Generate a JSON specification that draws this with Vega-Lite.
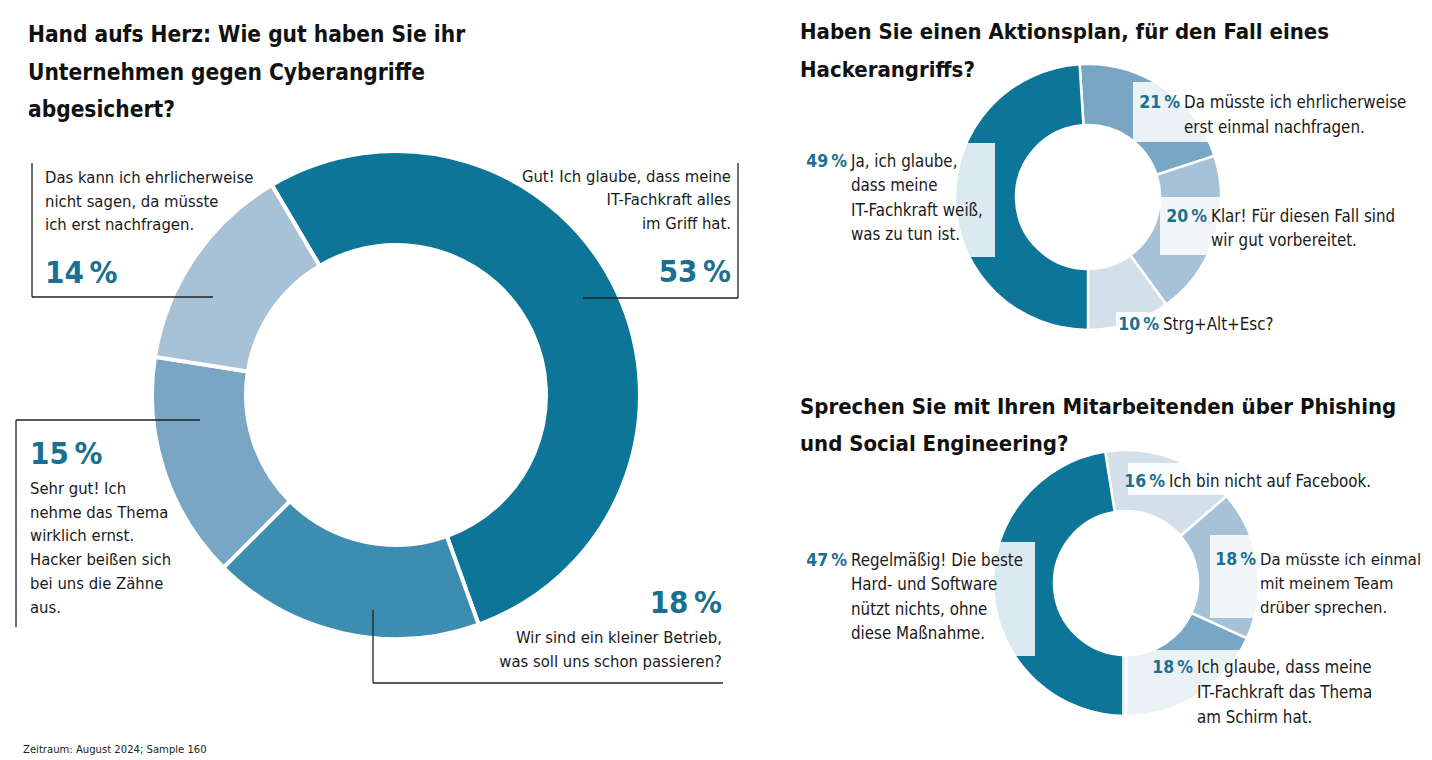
{
  "$schema": "https://vega.github.io/schema/vega-lite/v6.json",
  "width": 1432,
  "height": 760,
  "autosize": {"type": "fit", "contains": "padding"},
  "padding": 0,
  "background": "white",
  "config": {
    "view": {"stroke": null},
    "text": {"font": "DejaVu Sans Condensed, Liberation Sans Narrow, sans-serif", "color": "#1a1a1a"},
    "rule": {"color": "#222", "strokeWidth": 1.3},
    "locale": {
      "number": {"decimal": ",", "thousands": ".", "grouping": [3], "currency": ["", "\u2009%"]}
    }
  },
  "datasets": {
    "cyber": [
      {"id": "gut", "pct": 53, "rank": 1, "label": "Gut! Ich glaube, dass meine\nIT-Fachkraft alles\nim Griff hat."},
      {"id": "klein", "pct": 18, "rank": 2, "label": "Wir sind ein kleiner Betrieb,\nwas soll uns schon passieren?"},
      {"id": "sehrgut", "pct": 15, "rank": 3, "label": "Sehr gut! Ich\nnehme das Thema\nwirklich ernst.\nHacker beißen sich\nbei uns die Zähne\naus."},
      {"id": "weissnicht", "pct": 14, "rank": 4, "label": "Das kann ich ehrlicherweise\nnicht sagen, da müsste\nich erst nachfragen."}
    ],
    "plan": [
      {"id": "nachfragen", "pct": 21, "rank": 1, "label": "Da müsste ich ehrlicherweise\nerst einmal nachfragen."},
      {"id": "klar", "pct": 20, "rank": 2, "label": "Klar! Für diesen Fall sind\nwir gut vorbereitet."},
      {"id": "strg", "pct": 10, "rank": 3, "label": "Strg+Alt+Esc?"},
      {"id": "ja", "pct": 49, "rank": 4, "label": "Ja, ich glaube,\ndass meine\nIT-Fachkraft weiß,\nwas zu tun ist."}
    ],
    "phishing": [
      {"id": "facebook", "pct": 16, "rank": 1, "label": "Ich bin nicht auf Facebook."},
      {"id": "team", "pct": 18, "rank": 2, "label": "Da müsste ich einmal\nmit meinem Team\ndrüber sprechen."},
      {"id": "schirm", "pct": 18, "rank": 3, "label": "Ich glaube, dass meine\nIT-Fachkraft das Thema\nam Schirm hat."},
      {"id": "regel", "pct": 47, "rank": 4, "label": "Regelmäßig! Die beste\nHard- und Software\nnützt nichts, ohne\ndiese Maßnahme."}
    ]
  },
  "resolve": {"scale": {"theta": "independent", "color": "independent"}},
  "layer": [
    {
      "data": {"name": "cyber"},
      "mark": {"type": "arc", "x": 396, "y": 395, "radius": 244, "radius2": 150, "stroke": "white", "strokeWidth": 4},
      "encoding": {
        "theta": {"field": "pct", "type": "quantitative", "stack": true, "scale": {"range": [-0.534, 5.749]}},
        "order": {"field": "rank", "type": "quantitative"},
        "color": {"field": "id", "type": "nominal", "legend": null,
          "scale": {"domain": ["gut", "klein", "sehrgut", "weissnicht"], "range": ["#0d7598", "#3c8db0", "#78a6c4", "#a7c2d6"]}}
      }
    },
    {
      "data": {"name": "plan"},
      "mark": {"type": "arc", "x": 1088, "y": 197, "radius": 133, "radius2": 72, "stroke": "white", "strokeWidth": 2.5},
      "encoding": {
        "theta": {"field": "pct", "type": "quantitative", "stack": true, "scale": {"range": [-0.063, 6.220]}},
        "order": {"field": "rank", "type": "quantitative"},
        "color": {"field": "id", "type": "nominal", "legend": null,
          "scale": {"domain": ["nachfragen", "klar", "strg", "ja"], "range": ["#78a6c4", "#a7c2d6", "#d3e0ea", "#0d7598"]}}
      }
    },
    {
      "data": {"name": "phishing"},
      "mark": {"type": "arc", "x": 1126, "y": 583, "radius": 133, "radius2": 72, "stroke": "white", "strokeWidth": 2.5},
      "encoding": {
        "theta": {"field": "pct", "type": "quantitative", "stack": true, "scale": {"range": [-0.157, 6.126]}},
        "order": {"field": "rank", "type": "quantitative"},
        "color": {"field": "id", "type": "nominal", "legend": null,
          "scale": {"domain": ["facebook", "team", "schirm", "regel"], "range": ["#d3e0ea", "#a7c2d6", "#78a6c4", "#0d7598"]}}
      }
    },
    {"data": {"values": [{}]}, "mark": {"type": "rect", "x": 800, "x2": 995, "y": 143, "y2": 257, "fill": "white", "opacity": 0.85}, "encoding": {}},
    {"data": {"values": [{}]}, "mark": {"type": "rect", "x": 1133, "x2": 1420, "y": 82, "y2": 142, "fill": "white", "opacity": 0.85}, "encoding": {}},
    {"data": {"values": [{}]}, "mark": {"type": "rect", "x": 1160, "x2": 1420, "y": 197, "y2": 255, "fill": "white", "opacity": 0.85}, "encoding": {}},
    {"data": {"values": [{}]}, "mark": {"type": "rect", "x": 1116, "x2": 1300, "y": 312, "y2": 345, "fill": "white", "opacity": 0.85}, "encoding": {}},
    {"data": {"values": [{}]}, "mark": {"type": "rect", "x": 1128, "x2": 1400, "y": 463, "y2": 495, "fill": "white", "opacity": 0.85}, "encoding": {}},
    {"data": {"values": [{}]}, "mark": {"type": "rect", "x": 1210, "x2": 1430, "y": 535, "y2": 618, "fill": "white", "opacity": 0.85}, "encoding": {}},
    {"data": {"values": [{}]}, "mark": {"type": "rect", "x": 1122, "x2": 1400, "y": 650, "y2": 740, "fill": "white", "opacity": 0.85}, "encoding": {}},
    {"data": {"values": [{}]}, "mark": {"type": "rect", "x": 800, "x2": 1035, "y": 542, "y2": 656, "fill": "white", "opacity": 0.85}, "encoding": {}},

    {"data": {"values": [{}]}, "mark": "rule", "encoding": {"x": {"value": 32}, "y": {"value": 163}, "y2": {"value": 297}}},
    {"data": {"values": [{}]}, "mark": "rule", "encoding": {"y": {"value": 297}, "x": {"value": 32}, "x2": {"value": 213}}},
    {"data": {"values": [{}]}, "mark": "rule", "encoding": {"x": {"value": 738}, "y": {"value": 163}, "y2": {"value": 298}}},
    {"data": {"values": [{}]}, "mark": "rule", "encoding": {"y": {"value": 298}, "x": {"value": 583}, "x2": {"value": 738}}},
    {"data": {"values": [{}]}, "mark": "rule", "encoding": {"y": {"value": 420}, "x": {"value": 16}, "x2": {"value": 200}}},
    {"data": {"values": [{}]}, "mark": "rule", "encoding": {"x": {"value": 16}, "y": {"value": 420}, "y2": {"value": 627}}},
    {"data": {"values": [{}]}, "mark": "rule", "encoding": {"x": {"value": 373}, "y": {"value": 610}, "y2": {"value": 683}}},
    {"data": {"values": [{}]}, "mark": "rule", "encoding": {"y": {"value": 683}, "x": {"value": 373}, "x2": {"value": 723}}},

    {"data": {"values": [{}]}, "mark": {"type": "text", "x": 28, "y": 42, "align": "left", "baseline": "alphabetic", "fontSize": 22.5, "fontWeight": "bold", "lineHeight": 37.5, "color": "#111",
      "text": ["Hand aufs Herz: Wie gut haben Sie ihr", "Unternehmen gegen Cyberangriffe", "abgesichert?"]}, "encoding": {}},
    {"data": {"values": [{}]}, "mark": {"type": "text", "x": 800, "y": 39, "align": "left", "baseline": "alphabetic", "fontSize": 22, "fontWeight": "bold", "lineHeight": 38, "color": "#111",
      "text": ["Haben Sie einen Aktionsplan, für den Fall eines", "Hackerangriffs?"]}, "encoding": {}},
    {"data": {"values": [{}]}, "mark": {"type": "text", "x": 800, "y": 414, "align": "left", "baseline": "alphabetic", "fontSize": 22, "fontWeight": "bold", "lineHeight": 37, "color": "#111",
      "text": ["Sprechen Sie mit Ihren Mitarbeitenden über Phishing", "und Social Engineering?"]}, "encoding": {}},
    {"data": {"values": [{}]}, "mark": {"type": "text", "x": 23, "y": 753, "align": "left", "baseline": "alphabetic", "fontSize": 11.2, "color": "#222",
      "text": "Zeitraum: August 2024; Sample 160"}, "encoding": {}},

    {"data": {"name": "cyber"}, "transform": [{"filter": "datum.id === 'gut'"}],
      "mark": {"type": "text", "x": 731, "y": 182, "align": "right", "baseline": "alphabetic", "fontSize": 16.5, "lineHeight": 23.3, "lineBreak": "\n"},
      "encoding": {"text": {"field": "label"}}},
    {"data": {"name": "cyber"}, "transform": [{"filter": "datum.id === 'gut'"}],
      "mark": {"type": "text", "x": 731, "y": 282, "align": "right", "baseline": "alphabetic", "fontSize": 31, "fontWeight": "bold", "color": "#1a7090"},
      "encoding": {"text": {"field": "pct", "type": "quantitative", "format": "$d"}}},
    {"data": {"name": "cyber"}, "transform": [{"filter": "datum.id === 'weissnicht'"}],
      "mark": {"type": "text", "x": 45, "y": 183, "align": "left", "baseline": "alphabetic", "fontSize": 16.5, "lineHeight": 23.5, "lineBreak": "\n"},
      "encoding": {"text": {"field": "label"}}},
    {"data": {"name": "cyber"}, "transform": [{"filter": "datum.id === 'weissnicht'"}],
      "mark": {"type": "text", "x": 45, "y": 283, "align": "left", "baseline": "alphabetic", "fontSize": 31, "fontWeight": "bold", "color": "#1a7090"},
      "encoding": {"text": {"field": "pct", "type": "quantitative", "format": "$d"}}},
    {"data": {"name": "cyber"}, "transform": [{"filter": "datum.id === 'sehrgut'"}],
      "mark": {"type": "text", "x": 30, "y": 494, "align": "left", "baseline": "alphabetic", "fontSize": 16.5, "lineHeight": 23.7, "lineBreak": "\n"},
      "encoding": {"text": {"field": "label"}}},
    {"data": {"name": "cyber"}, "transform": [{"filter": "datum.id === 'sehrgut'"}],
      "mark": {"type": "text", "x": 30, "y": 464, "align": "left", "baseline": "alphabetic", "fontSize": 31, "fontWeight": "bold", "color": "#1a7090"},
      "encoding": {"text": {"field": "pct", "type": "quantitative", "format": "$d"}}},
    {"data": {"name": "cyber"}, "transform": [{"filter": "datum.id === 'klein'"}],
      "mark": {"type": "text", "x": 722, "y": 643, "align": "right", "baseline": "alphabetic", "fontSize": 16.5, "lineHeight": 23.5, "lineBreak": "\n"},
      "encoding": {"text": {"field": "label"}}},
    {"data": {"name": "cyber"}, "transform": [{"filter": "datum.id === 'klein'"}],
      "mark": {"type": "text", "x": 722, "y": 613, "align": "right", "baseline": "alphabetic", "fontSize": 31, "fontWeight": "bold", "color": "#1a7090"},
      "encoding": {"text": {"field": "pct", "type": "quantitative", "format": "$d"}}},

    {"data": {"name": "plan"}, "transform": [{"filter": "datum.id === 'nachfragen'"}],
      "mark": {"type": "text", "x": 1184, "y": 108, "align": "left", "baseline": "alphabetic", "fontSize": 16.8, "lineHeight": 25, "lineBreak": "\n"},
      "encoding": {"text": {"field": "label"}}},
    {"data": {"name": "plan"}, "transform": [{"filter": "datum.id === 'nachfragen'"}],
      "mark": {"type": "text", "x": 1180, "y": 108, "align": "right", "baseline": "alphabetic", "fontSize": 17.5, "fontWeight": "bold", "color": "#1a7090"},
      "encoding": {"text": {"field": "pct", "type": "quantitative", "format": "$d"}}},
    {"data": {"name": "plan"}, "transform": [{"filter": "datum.id === 'klar'"}],
      "mark": {"type": "text", "x": 1211, "y": 222, "align": "left", "baseline": "alphabetic", "fontSize": 16.8, "lineHeight": 24, "lineBreak": "\n"},
      "encoding": {"text": {"field": "label"}}},
    {"data": {"name": "plan"}, "transform": [{"filter": "datum.id === 'klar'"}],
      "mark": {"type": "text", "x": 1207, "y": 222, "align": "right", "baseline": "alphabetic", "fontSize": 17.5, "fontWeight": "bold", "color": "#1a7090"},
      "encoding": {"text": {"field": "pct", "type": "quantitative", "format": "$d"}}},
    {"data": {"name": "plan"}, "transform": [{"filter": "datum.id === 'strg'"}],
      "mark": {"type": "text", "x": 1163, "y": 330, "align": "left", "baseline": "alphabetic", "fontSize": 16.8, "lineBreak": "\n"},
      "encoding": {"text": {"field": "label"}}},
    {"data": {"name": "plan"}, "transform": [{"filter": "datum.id === 'strg'"}],
      "mark": {"type": "text", "x": 1159, "y": 330, "align": "right", "baseline": "alphabetic", "fontSize": 17.5, "fontWeight": "bold", "color": "#1a7090"},
      "encoding": {"text": {"field": "pct", "type": "quantitative", "format": "$d"}}},
    {"data": {"name": "plan"}, "transform": [{"filter": "datum.id === 'ja'"}],
      "mark": {"type": "text", "x": 851, "y": 167, "align": "left", "baseline": "alphabetic", "fontSize": 16.8, "lineHeight": 24.3, "lineBreak": "\n"},
      "encoding": {"text": {"field": "label"}}},
    {"data": {"name": "plan"}, "transform": [{"filter": "datum.id === 'ja'"}],
      "mark": {"type": "text", "x": 847, "y": 167, "align": "right", "baseline": "alphabetic", "fontSize": 17.5, "fontWeight": "bold", "color": "#1a7090"},
      "encoding": {"text": {"field": "pct", "type": "quantitative", "format": "$d"}}},

    {"data": {"name": "phishing"}, "transform": [{"filter": "datum.id === 'facebook'"}],
      "mark": {"type": "text", "x": 1169, "y": 487, "align": "left", "baseline": "alphabetic", "fontSize": 16.8, "lineBreak": "\n"},
      "encoding": {"text": {"field": "label"}}},
    {"data": {"name": "phishing"}, "transform": [{"filter": "datum.id === 'facebook'"}],
      "mark": {"type": "text", "x": 1165, "y": 487, "align": "right", "baseline": "alphabetic", "fontSize": 17.5, "fontWeight": "bold", "color": "#1a7090"},
      "encoding": {"text": {"field": "pct", "type": "quantitative", "format": "$d"}}},
    {"data": {"name": "phishing"}, "transform": [{"filter": "datum.id === 'team'"}],
      "mark": {"type": "text", "x": 1260, "y": 565, "align": "left", "baseline": "alphabetic", "fontSize": 16.5, "lineHeight": 24, "lineBreak": "\n"},
      "encoding": {"text": {"field": "label"}}},
    {"data": {"name": "phishing"}, "transform": [{"filter": "datum.id === 'team'"}],
      "mark": {"type": "text", "x": 1256, "y": 565, "align": "right", "baseline": "alphabetic", "fontSize": 17.5, "fontWeight": "bold", "color": "#1a7090"},
      "encoding": {"text": {"field": "pct", "type": "quantitative", "format": "$d"}}},
    {"data": {"name": "phishing"}, "transform": [{"filter": "datum.id === 'schirm'"}],
      "mark": {"type": "text", "x": 1197, "y": 673, "align": "left", "baseline": "alphabetic", "fontSize": 16.8, "lineHeight": 25, "lineBreak": "\n"},
      "encoding": {"text": {"field": "label"}}},
    {"data": {"name": "phishing"}, "transform": [{"filter": "datum.id === 'schirm'"}],
      "mark": {"type": "text", "x": 1193, "y": 673, "align": "right", "baseline": "alphabetic", "fontSize": 17.5, "fontWeight": "bold", "color": "#1a7090"},
      "encoding": {"text": {"field": "pct", "type": "quantitative", "format": "$d"}}},
    {"data": {"name": "phishing"}, "transform": [{"filter": "datum.id === 'regel'"}],
      "mark": {"type": "text", "x": 851, "y": 566, "align": "left", "baseline": "alphabetic", "fontSize": 16.8, "lineHeight": 24.3, "lineBreak": "\n"},
      "encoding": {"text": {"field": "label"}}},
    {"data": {"name": "phishing"}, "transform": [{"filter": "datum.id === 'regel'"}],
      "mark": {"type": "text", "x": 847, "y": 566, "align": "right", "baseline": "alphabetic", "fontSize": 17.5, "fontWeight": "bold", "color": "#1a7090"},
      "encoding": {"text": {"field": "pct", "type": "quantitative", "format": "$d"}}}
  ]
}
